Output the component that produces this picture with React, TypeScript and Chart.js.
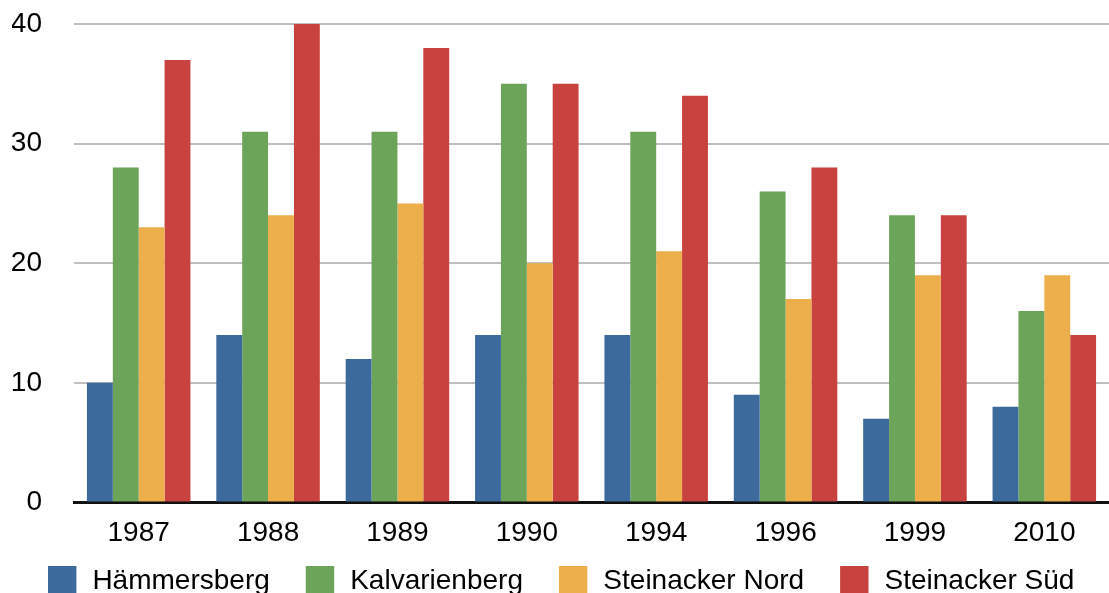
import React, { useEffect, useRef } from "react";
import { Chart, registerables } from "chart.js";

Chart.register(...registerables);

// Survey years and counts per site
const years = ["1987", "1988", "1989", "1990", "1994", "1996", "1999", "2010"];
const haemmersberg = [10, 14, 12, 14, 14, 9, 7, 8];
const kalvarienberg = [28, 31, 31, 35, 31, 26, 24, 16];
const steinackerNord = [23, 24, 25, 20, 21, 17, 19, 19];
const steinackerSued = [37, 40, 38, 35, 34, 28, 24, 14];
const yTicks = [0, 10, 20, 30, 40];

const FONT = "'Liberation Sans', Arial, Helvetica, sans-serif";
const TICK_SIZE = 28;

// Single-row legend under the axis: square swatch, label, fixed gap between entries
const LEGEND = { left: 48, baseline: 589, box: 28.4, boxTop: 566, textGap: 16, itemGap: 36, size: 28 };

const bottomLegend = {
  id: "bottomLegend",
  afterDraw(chart: any) {
    const { ctx } = chart;
    ctx.save();
    ctx.font = `${LEGEND.size}px ${FONT}`;
    ctx.textAlign = "left";
    ctx.textBaseline = "alphabetic";
    let x = LEGEND.left;
    chart.data.datasets.forEach((ds: any) => {
      ctx.fillStyle = ds.backgroundColor;
      ctx.fillRect(x, LEGEND.boxTop, LEGEND.box, LEGEND.box);
      const tx = x + LEGEND.box + LEGEND.textGap;
      ctx.fillStyle = "#000";
      ctx.fillText(ds.label, tx, LEGEND.baseline);
      x = tx + ctx.measureText(ds.label).width + LEGEND.itemGap;
    });
    ctx.restore();
  },
};

export default function App() {
  const canvasRef = useRef<HTMLCanvasElement | null>(null);

  useEffect(() => {
    const canvas = canvasRef.current;
    if (!canvas) return;
    const chart = new Chart(canvas, {
      type: "bar",
      data: {
        labels: years,
        datasets: [
          { label: "Hämmersberg", data: haemmersberg, backgroundColor: "#3c6a9c" },
          { label: "Kalvarienberg", data: kalvarienberg, backgroundColor: "#6ca45a" },
          { label: "Steinacker Nord", data: steinackerNord, backgroundColor: "#edaf4b" },
          { label: "Steinacker Süd", data: steinackerSued, backgroundColor: "#c8433f" },
        ],
      },
      options: {
        responsive: false,
        animation: false,
        events: [],
        layout: { padding: { left: 12, top: 24, right: 0, bottom: 29 } },
        datasets: {
          bar: { barPercentage: 1, categoryPercentage: 0.8, borderWidth: 0 },
        },
        scales: {
          x: {
            z: 1,
            grid: { display: false, drawTicks: false },
            border: { display: true, color: "#111", width: 3 },
            ticks: { color: "#000", padding: 14, font: { family: FONT, size: TICK_SIZE } },
          },
          y: {
            min: 0,
            max: 40,
            afterBuildTicks: (scale: any) => {
              scale.ticks = yTicks.map((v) => ({ value: v }));
            },
            afterFit: (scale: any) => {
              // keep the wide label gap horizontal only
              scale.width = 62;
              scale.paddingTop = 16;
              scale.paddingBottom = 16;
            },
            grid: { color: "#bfbfbf", lineWidth: 2, drawTicks: false },
            border: { display: false },
            ticks: { color: "#000", padding: 32, font: { family: FONT, size: TICK_SIZE } },
          },
        },
        plugins: {
          legend: { display: false },
          tooltip: { enabled: false },
        },
      },
      plugins: [bottomLegend],
    });
    return () => chart.destroy();
  }, []);

  return (
    <div
      style={{
        position: "absolute",
        left: 0,
        top: 0,
        width: 1109,
        height: 593,
        overflow: "hidden",
        background: "#fff",
      }}
    >
      <canvas ref={canvasRef} width={1109} height={593} style={{ display: "block" }} />
    </div>
  );
}
